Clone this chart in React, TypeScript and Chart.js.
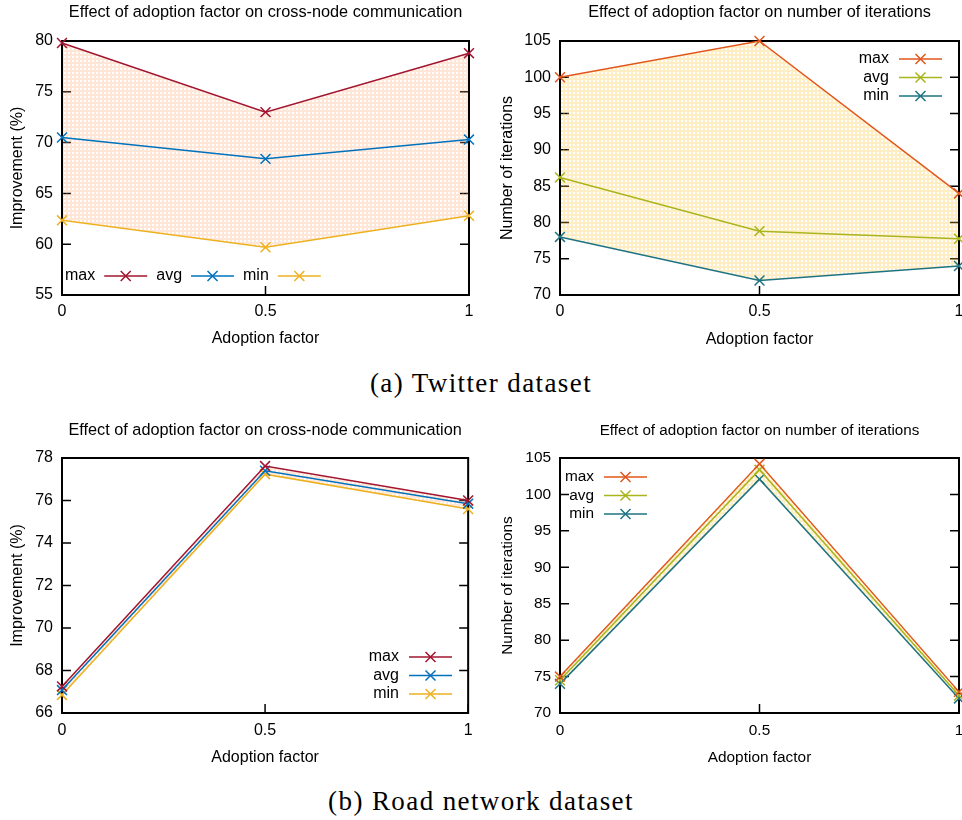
import React, { useEffect, useRef } from 'react';
import { Chart, registerables } from 'chart.js';

Chart.register(...registerables);

// ---------- data ----------
const adoptionFactors = [0, 0.5, 1];
const xTickLabels = ['0', '0.5', '1'];
const seriesLabels = ['max', 'avg', 'min'];

// (a) Twitter dataset
const twitterCommMax = [79.8, 73.0, 78.8];
const twitterCommAvg = [70.5, 68.4, 70.3];
const twitterCommMin = [62.35, 59.7, 62.8];
const twitterIterMax = [100, 105, 84];
const twitterIterAvg = [86.2, 78.8, 77.75];
const twitterIterMin = [78, 72, 74];

// (b) Road network dataset
const roadCommMax = [67.25, 77.62, 76.0];
const roadCommAvg = [67.08, 77.4, 75.85];
const roadCommMin = [66.85, 77.24, 75.6];
const roadIterMax = [75, 104.2, 72.9];
const roadIterAvg = [74.5, 103.4, 72.4];
const roadIterMin = [74.0, 102.1, 72.0];

const commColors = ['#A2142F', '#0072BD', '#EDB120'];
const iterColors = ['#E0561B', '#A9B51C', '#1E7382'];

const FONT = "'Liberation Sans', Arial, sans-serif";

type Panel = {
  left: number; top: number; width: number; height: number;
  area: { l: number; r: number; t: number; b: number };
  title: string; titleY: number; titleSize: number; fontSize: number;
  yTitle: string; yMin: number; yMax: number; yStep: number;
  yTitleCenter: number; xTitleCenter: number; xTickCenter: number;
  series: number[][]; colors: string[]; fillColor: string;
  legend: { mode: 'h' | 'v'; x: number; y: number };
};

const panels: Panel[] = [
  {
    left: 0, top: 0, width: 481, height: 360,
    area: { l: 62, r: 469, t: 41, b: 295 },
    title: 'Effect of adoption factor on cross-node communication', titleY: 13, titleSize: 16.3, fontSize: 16,
    yTitle: 'Improvement (%)', yMin: 55, yMax: 80, yStep: 5,
    yTitleCenter: 18, xTitleCenter: 339, xTickCenter: 312,
    series: [twitterCommMax, twitterCommAvg, twitterCommMin], colors: commColors,
    fillColor: 'rgba(255,165,110,0.28)',
    legend: { mode: 'h', x: 65, y: 276 },
  },
  {
    left: 481, top: 0, width: 500, height: 360,
    area: { l: 79, r: 478, t: 41, b: 295 },
    title: 'Effect of adoption factor on number of iterations', titleY: 13, titleSize: 16.3, fontSize: 16,
    yTitle: 'Number of iterations', yMin: 70, yMax: 105, yStep: 5,
    yTitleCenter: 27, xTitleCenter: 340, xTickCenter: 312,
    series: [twitterIterMax, twitterIterAvg, twitterIterMin], colors: iterColors,
    fillColor: 'rgba(255,200,60,0.30)',
    legend: { mode: 'v', x: 408, y: 59 },
  },
  {
    left: 0, top: 410, width: 481, height: 360,
    area: { l: 62, r: 469, t: 48, b: 303 },
    title: 'Effect of adoption factor on cross-node communication', titleY: 21, titleSize: 16.3, fontSize: 16,
    yTitle: 'Improvement (%)', yMin: 66, yMax: 78, yStep: 2,
    yTitleCenter: 18, xTitleCenter: 348, xTickCenter: 321,
    series: [roadCommMax, roadCommAvg, roadCommMin], colors: commColors,
    fillColor: 'rgba(255,165,110,0.28)',
    legend: { mode: 'v', x: 399, y: 247 },
  },
  {
    left: 481, top: 410, width: 500, height: 360,
    area: { l: 79, r: 478, t: 48, b: 303 },
    title: 'Effect of adoption factor on number of iterations', titleY: 21, titleSize: 15.2, fontSize: 15.4,
    yTitle: 'Number of iterations', yMin: 70, yMax: 105, yStep: 5,
    yTitleCenter: 27, xTitleCenter: 348, xTickCenter: 321,
    series: [roadIterMax, roadIterAvg, roadIterMin], colors: iterColors,
    fillColor: 'rgba(255,200,60,0.30)',
    legend: { mode: 'v', x: 113, y: 67 },
  },
];

function makePattern(color: string): CanvasPattern | string {
  const c = document.createElement('canvas');
  c.width = 4; c.height = 4;
  const g = c.getContext('2d');
  if (!g) return color;
  g.fillStyle = color;
  g.fillRect(0, 0, 4, 4);
  g.clearRect(0, 0, 2, 2);
  return g.createPattern(c, 'repeat') || color;
}

function drawX(ctx: CanvasRenderingContext2D, cx: number, cy: number, r: number) {
  ctx.beginPath();
  ctx.moveTo(cx - r, cy - r); ctx.lineTo(cx + r, cy + r);
  ctx.moveTo(cx - r, cy + r); ctx.lineTo(cx + r, cy - r);
  ctx.stroke();
}

const gpPlugin = {
  id: 'gp',
  beforeDraw(chart: any) {
    const { ctx, chartArea: a, scales } = chart;
    ctx.save();
    ctx.strokeStyle = '#000';
    ctx.lineWidth = 1.5;
    const t = 9;
    const ys = scales.y;
    ys.ticks.forEach((tk: any) => {
      const py = ys.getPixelForValue(tk.value);
      ctx.beginPath();
      ctx.moveTo(a.left, py); ctx.lineTo(a.left + t, py);
      ctx.moveTo(a.right - t, py); ctx.lineTo(a.right, py);
      ctx.stroke();
    });
    const xs = scales.x;
    xs.ticks.forEach((tk: any) => {
      const px = xs.getPixelForValue(tk.value);
      ctx.beginPath();
      ctx.moveTo(px, a.bottom); ctx.lineTo(px, a.bottom - t);
      ctx.stroke();
    });
    ctx.restore();
  },
  beforeDatasetsDraw(chart: any) {
    const { ctx, chartArea: a } = chart;
    ctx.save();
    ctx.strokeStyle = '#000';
    ctx.lineWidth = 2;
    ctx.strokeRect(a.left, a.top, a.right - a.left, a.bottom - a.top);
    ctx.restore();
  },
  afterDraw(chart: any, _args: any, opts: any) {
    const { ctx, chartArea: a } = chart;
    ctx.save();
    ctx.fillStyle = '#000';
    ctx.textBaseline = 'middle';
    ctx.textAlign = 'center';
    ctx.font = `${opts.titleSize}px ${FONT}`;
    ctx.fillText(opts.title, (a.left + a.right) / 2, opts.titleY);

    ctx.font = `${opts.fontSize}px ${FONT}`;
    const L = opts.legend;
    const sampleLen = 43;
    const dsets = chart.data.datasets;
    let x = L.x;
    dsets.forEach((ds: any, i: number) => {
      let sx: number;
      let y: number;
      ctx.fillStyle = '#000';
      if (L.mode === 'h') {
        y = L.y;
        ctx.textAlign = 'left';
        ctx.fillText(ds.label, x, y);
        sx = x + ctx.measureText(ds.label).width + 9;
        x = sx + sampleLen + 9;
      } else {
        y = L.y + i * 18.5;
        ctx.textAlign = 'right';
        ctx.fillText(ds.label, L.x, y);
        sx = L.x + 10;
      }
      ctx.strokeStyle = ds.borderColor;
      ctx.lineWidth = 1.5;
      ctx.beginPath();
      ctx.moveTo(sx, y); ctx.lineTo(sx + sampleLen, y);
      ctx.stroke();
      drawX(ctx, sx + sampleLen / 2, y, 5);
    });
    ctx.restore();
  },
};

function PanelChart({ p }: { p: Panel }) {
  const ref = useRef<HTMLCanvasElement | null>(null);
  useEffect(() => {
    if (!ref.current) return;
    const font = { family: FONT, size: p.fontSize };
    const lh = p.fontSize * 1.2;
    const datasets = p.series.map((vals, i) => ({
      label: seriesLabels[i],
      data: vals.map((v, j) => ({ x: adoptionFactors[j], y: v })),
      borderColor: p.colors[i],
      backgroundColor: i === 0 ? makePattern(p.fillColor) : p.colors[i],
      fill: i === 0 ? '+2' : false,
      borderWidth: 1.5,
      pointStyle: 'crossRot',
      pointRadius: 7,
      pointBorderWidth: 1.5,
      pointBorderColor: p.colors[i],
      pointBackgroundColor: p.colors[i],
      tension: 0,
      clip: false as any,
    }));
    const chart = new Chart(ref.current, {
      type: 'line',
      data: { datasets } as any,
      options: {
        responsive: false,
        animation: false,
        events: [],
        layout: {
          padding: { left: 0, top: p.area.t, right: p.width - p.area.r, bottom: 0 },
        },
        scales: {
          x: {
            type: 'linear',
            min: 0,
            max: 1,
            afterFit: (s: any) => { s.height = p.height - p.area.b; },
            grid: { display: false, drawTicks: false },
            border: { display: false },
            ticks: {
              stepSize: 0.5,
              autoSkip: false,
              maxRotation: 0,
              color: '#000',
              font,
              padding: p.xTickCenter - p.area.b - lh / 2,
              callback: (_v: any, idx: number) => xTickLabels[idx],
            },
            title: {
              display: true,
              text: 'Adoption factor',
              color: '#000',
              font,
              padding: { top: 0, bottom: p.height - p.xTitleCenter - lh / 2 },
            },
          },
          y: {
            type: 'linear',
            min: p.yMin,
            max: p.yMax,
            afterFit: (s: any) => { s.width = p.area.l; },
            grid: { display: false, drawTicks: false },
            border: { display: false },
            ticks: { stepSize: p.yStep, color: '#000', font, padding: 9 },
            title: {
              display: true,
              text: p.yTitle,
              color: '#000',
              font,
              padding: { top: p.yTitleCenter - lh / 2, bottom: 0 },
            },
          },
        },
        plugins: {
          legend: { display: false },
          title: { display: false },
          tooltip: { enabled: false },
          filler: { drawTime: 'beforeDatasetsDraw' },
          gp: {
            title: p.title,
            titleY: p.titleY,
            titleSize: p.titleSize,
            fontSize: p.fontSize,
            legend: p.legend,
          },
        } as any,
      },
      plugins: [gpPlugin as any],
    } as any);
    return () => chart.destroy();
  }, [p]);
  return (
    <canvas
      ref={ref}
      width={p.width}
      height={p.height}
      style={{ position: 'absolute', left: p.left, top: p.top, width: p.width, height: p.height }}
    />
  );
}

const captionStyle: React.CSSProperties = {
  position: 'absolute',
  left: 0,
  width: 962,
  textAlign: 'center',
  fontFamily: "'Liberation Serif', 'DejaVu Serif', serif",
  fontSize: 27,
  letterSpacing: '1.4px',
  lineHeight: '30px',
  color: '#000',
};

export default function App() {
  return (
    <div
      style={{
        position: 'absolute',
        left: 0,
        top: 0,
        width: 962,
        height: 820,
        overflow: 'hidden',
        background: '#fff',
      }}
    >
      {panels.map((p, i) => (
        <PanelChart key={i} p={p} />
      ))}
      <div style={{ ...captionStyle, top: 368 }}>(a) Twitter dataset</div>
      <div style={{ ...captionStyle, top: 786 }}>(b) Road network dataset</div>
    </div>
  );
}
